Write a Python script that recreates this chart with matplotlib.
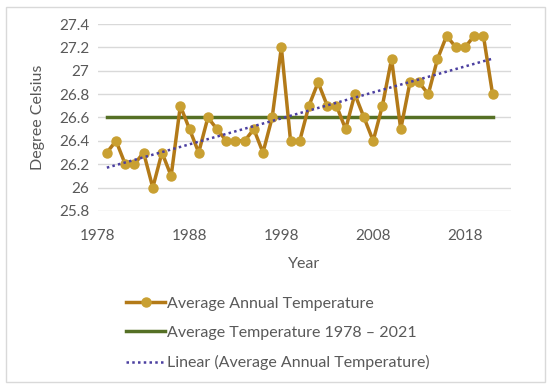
import matplotlib
matplotlib.use('Agg')
import matplotlib.pyplot as plt
from matplotlib.patches import FancyBboxPatch
import numpy as np

plt.rcParams['font.family'] = ['Lato', 'DejaVu Sans']

# data
years = list(range(1979, 2022))
temps = [26.3, 26.4, 26.2, 26.2, 26.3, 26.0, 26.3, 26.1, 26.7, 26.5,
         26.3, 26.6, 26.5, 26.4, 26.4, 26.4, 26.5, 26.3, 26.6, 27.2,
         26.4, 26.4, 26.7, 26.9, 26.7, 26.7, 26.5, 26.8, 26.6, 26.4,
         26.7, 27.1, 26.5, 26.9, 26.9, 26.8, 27.1, 27.3, 27.2, 27.2,
         27.3, 27.3, 26.8]
avg_temp = 26.6
x_ticks = [1978, 1988, 1998, 2008, 2018]
y_ticks = [25.8, 26.0, 26.2, 26.4, 26.6, 26.8, 27.0, 27.2, 27.4]
y_tick_labels = ['25.8', '26', '26.2', '26.4', '26.6', '26.8', '27', '27.2', '27.4']

text_col = '#595959'
grid_col = '#D9D9D9'

fig = plt.figure(figsize=(5.5, 3.86), dpi=100)
ax = fig.add_axes([0.1776, 0.4534, 0.7514, 0.4844])

# outer chart border
fig.patches.append(FancyBboxPatch((6 / 550, 4 / 386), 539 / 550, 375 / 386,
                                  boxstyle='square,pad=0', transform=fig.transFigure,
                                  facecolor='none', edgecolor=grid_col, lw=1))

yrs = np.array(years)
line_temp, = ax.plot(yrs, temps, color='#B37A18', lw=2.5, marker='o', ms=6.5,
                     mfc='#C9A032', mec='#C9A032', zorder=3,
                     label='Average Annual Temperature')
line_avg, = ax.plot([years[0], years[-1]], [avg_temp, avg_temp], color='#557025',
                    lw=2.5, zorder=2, label='Average Temperature 1978 \u2013 2021')
k, b = np.polyfit(yrs, temps, 1)
line_trend, = ax.plot(yrs, k * yrs + b, color='#4B3FA0', lw=1.8, ls=(0, (1, 1.3)),
                      zorder=4, label='Linear (Average Annual Temperature)')

ax.set_xlim(1978, 2023)
ax.set_ylim(25.8, 27.4)
ax.set_xticks(x_ticks)
ax.set_yticks(y_ticks)
ax.set_yticklabels(y_tick_labels)
ax.tick_params(length=0, labelsize=11, colors=text_col, pad=6)
ax.tick_params(axis='x', pad=13)
ax.grid(axis='y', color=grid_col, lw=1)
ax.set_axisbelow(True)
for s in ax.spines.values():
    s.set_visible(False)

ax.set_xlabel('Year', fontsize=11.5, color=text_col, labelpad=10)
ax.set_ylabel('Degree Celsius', fontsize=11.5, color=text_col, labelpad=10)

fig.legend(handles=[line_temp, line_avg, line_trend], loc='upper left',
           bbox_to_anchor=(120 / 550, 1 - 290 / 386), frameon=False,
           fontsize=11.5, labelcolor=text_col, handlelength=2.4, handletextpad=0.15,
           labelspacing=0.95, borderaxespad=0)

fig.savefig('out.png', dpi=100)
